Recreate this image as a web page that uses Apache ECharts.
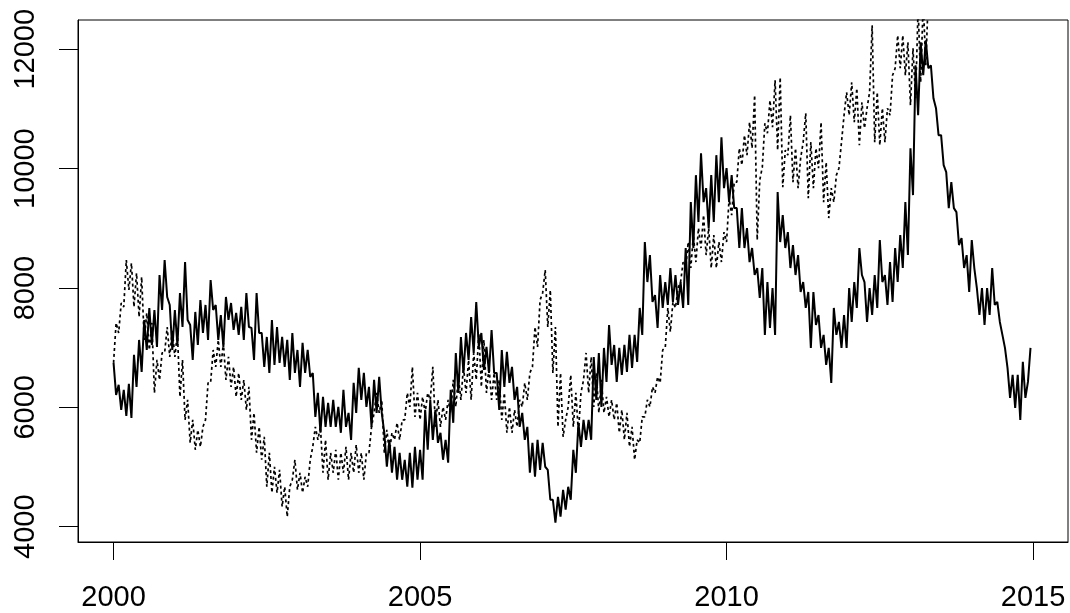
<!DOCTYPE html>
<html>
<head>
<meta charset="utf-8">
<script src="https://cdn.jsdelivr.net/npm/echarts@6/dist/echarts.min.js"></script>
<style>
html,body{margin:0;padding:0;background:#fff;}
#chart{width:1070px;height:613px;}
</style>
</head>
<body>
<div id="chart"></div>
<script>
// Two readings per month (first half / second half), Jan 2000 onward
const startYear = 2000;
const xTicks = [2000, 2005, 2010, 2015];
const yTicks = [4000, 6000, 8000, 10000, 12000];

const solidFirst = [
 6745,6377,6293,6394,6879,7130,7465,7666,7632,8218,8469,7716,
 7632,7917,8435,7381,7599,7799,7716,8134,7716,7548,7850,7749,
 7582,7683,7917,7331,7917,7247,7180,7465,7347,7180,7130,7247,
 6962,7080,6962,6577,6243,6176,6075,6126,6008,6293,5908,6410,
 6661,6577,6343,6460,6511,5574,5456,5339,5239,5122,5239,5339,
 5289,5958,6126,5958,5574,5456,6293,6912,7180,7247,7515,7766,
 7247,7013,7297,6577,6962,6929,6678,6343,5908,5674,5406,5456,
 5406,4954,4452,4502,4619,4670,5289,5741,5791,5791,6845,6912,
 6996,7381,7046,6996,7046,7214,7214,7666,8770,8552,7883,8218,
 8100,8335,8218,8100,8670,9439,9891,10259,9674,9891,10226,10527,
 10008,9891,9339,9339,9004,8670,8335,8335,8100,8000,9607,9222,
 8937,8720,8552,8100,7933,7933,7548,7214,6996,7666,7431,7548,
 8000,8100,8670,8100,8000,8218,8804,8218,8435,8670,8887,9439,
 10343,11732,12117,12151,11732,11013,10561,9941,9774,9272,8837,8552,
 8804,8000,8000,8000,8335,7766,7214,6661,6544,6544,6762,6427
];
const solidSecond = [
 6209,5958,5858,5824,6343,6594,6962,7046,7013,7632,7850,6962,
 7046,7347,7465,6795,7046,7247,7130,7632,7130,7013,7465,7297,
 7214,7130,7347,6795,7247,6678,6577,6712,6745,6678,6460,6577,
 6343,6577,6511,5841,5574,5674,5674,5674,5574,5674,5456,5908,
 6126,6008,5674,5908,5908,5005,4904,4787,4787,4670,4653,4787,
 4787,5289,5456,5406,5122,5072,5741,6243,6577,6795,6912,7013,
 6628,6577,6577,5958,6343,6410,6126,5674,5456,4904,4837,4954,
 5005,4452,4067,4168,4285,4452,4904,5339,5456,5456,6126,6008,
 6427,6712,6427,6544,6594,6661,6762,7214,8100,7766,7331,7666,
 7716,7766,7716,7666,7716,8670,9105,9439,9004,9105,9439,9674,
 9439,9339,8670,8670,8435,8218,7833,7214,7331,7214,8770,8670,
 8335,8218,7933,7666,6996,7381,6996,6712,6410,7214,6996,6996,
 7431,7666,8218,7431,7548,7666,8100,7716,7766,8100,8335,8552,
 9557,10895,11565,11682,11180,10561,10059,9339,9339,8720,8335,7933,
 8335,7548,7381,7548,7716,7431,6996,6159,5992,5791,6159,6996
];
const dottedFirst = [
 6745,7247,7683,7967,7683,7515,7130,6962,6243,6460,6912,6845,
 6845,6176,5791,5406,5289,5339,5791,6410,6678,6678,6460,6343,
 6176,6126,5958,5456,5239,5122,4670,4569,4569,4335,4168,4787,
 4619,4569,4670,5339,5456,4904,4787,4904,4787,4904,4787,4904,
 4904,4787,5239,5908,5908,5239,5239,5456,5456,5791,6008,5841,
 5791,5908,6126,5674,5674,5791,5908,6008,6126,6243,6126,6460,
 6343,6243,6126,6126,5791,5574,5574,5674,6008,6126,6678,7013,
 7917,7347,6577,5674,5507,6008,5674,5574,6460,6243,6008,5908,
 5908,5841,5791,5574,5456,5339,5122,5406,5841,6008,6243,6410,
 6996,7264,7666,8100,8335,8335,8435,8670,8552,8335,8335,8435,
 8770,9222,9774,10059,10226,10343,8804,10025,10594,10695,10310,9690,
 10226,9774,9674,10444,9506,9674,10008,9439,9172,9439,10008,10895,
 10895,10778,10393,10678,11280,10444,10393,10444,10895,11682,11682,11565,
 11063,11180,11448,11732
];
const dottedSecond = [
 7415,7749,8469,8419,8251,8185,7582,7415,6795,6912,7347,7297,
 7247,6795,6126,5791,5624,5674,6410,6962,7130,7080,6845,6678,
 6577,6460,6343,5908,5674,5507,5239,5005,4954,4670,4670,5122,
 4904,4837,5122,5674,5674,5456,5239,5289,5239,5339,5239,5373,
 5239,5239,5674,6243,6126,5624,5574,5741,5791,6243,6678,6243,
 6176,6243,6678,6126,6008,6126,6460,6511,6678,6795,6912,7247,
 7130,6678,6577,6460,6243,6008,5958,6126,6410,6577,7347,7799,
 8301,7967,7347,6577,5791,6544,6243,6243,6912,6845,6577,6460,
 6176,6126,6075,5958,5908,5674,5456,5841,6126,6343,6511,6962,
 7666,7766,8000,8435,8770,8887,9004,9222,9004,8887,8770,8937,
 9506,9774,10343,10561,10778,11230,9808,10762,11146,11481,11531,10310,
 10895,10343,10176,10929,10444,10343,10778,10109,9674,9891,10444,11280,
 11448,11347,11113,11013,12402,11280,11013,11013,11565,12234,12234,12117,
 12017,12700,12800,12900
];

function zigzag(first, second) {
  const pts = [];
  for (let i = 0; i < first.length; i++) {
    const t = startYear + i / 12;
    pts.push([t, first[i]]);
    pts.push([t + 1 / 24, second[i]]);
  }
  return pts;
}

const chart = echarts.init(document.getElementById('chart'), null, {renderer: 'canvas'});
const font = '"Liberation Sans", Arial, sans-serif';
chart.setOption({
  animation: false,
  backgroundColor: '#ffffff',
  grid: {left: 78, top: 20, right: 2, bottom: 71, show: true,
         borderColor: '#000', borderWidth: 1, backgroundColor: 'transparent'},
  xAxis: {
    type: 'value', min: 1999.42, max: 2015.57,
    axisLine: {show: true, lineStyle: {color: '#000', width: 1}},
    axisTick: {show: true, customValues: xTicks, length: 18, lineStyle: {color: '#000', width: 1}},
    axisLabel: {customValues: xTicks, color: '#000', fontSize: 29, fontFamily: font, margin: 41,
                formatter: v => String(Math.round(v))},
    splitLine: {show: false}
  },
  yAxis: {
    type: 'value', min: 3744, max: 12491,
    axisLine: {show: true, lineStyle: {color: '#000', width: 1}},
    axisTick: {show: true, customValues: yTicks, length: 19, lineStyle: {color: '#000', width: 1}},
    axisLabel: {customValues: yTicks, color: '#000', fontSize: 29, fontFamily: font, margin: 38, rotate: 90,
                formatter: v => String(Math.round(v))},
    splitLine: {show: false}
  },
  series: [
    {type: 'line', data: zigzag(solidFirst, solidSecond), showSymbol: false, symbol: 'none',
     clip: true, lineStyle: {color: '#000', width: 2}, z: 3},
    {type: 'line', data: zigzag(dottedFirst, dottedSecond), showSymbol: false, symbol: 'none',
     clip: true, lineStyle: {color: '#000', width: 1.7, type: [3, 3]}, z: 2}
  ]
});
</script>
</body>
</html>
